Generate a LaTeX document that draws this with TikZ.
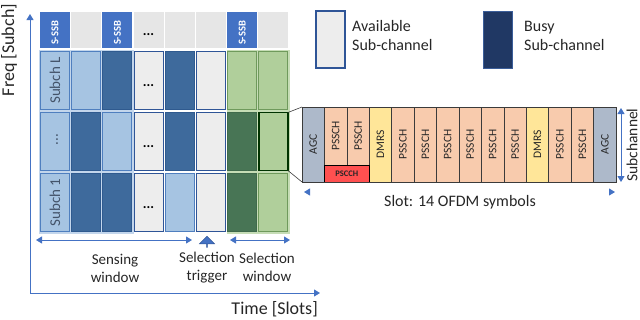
\documentclass[tikz,border=0pt]{standalone}
\usepackage{fontspec}
\setmainfont{Carlito}
\usetikzlibrary{arrows.meta,shapes.arrows,calc}
\definecolor{axisblue}{HTML}{4472C4}
\definecolor{lbfill}{HTML}{A6C4E2}
\definecolor{lbdraw}{HTML}{4F7FBF}
\definecolor{dbfill}{HTML}{3E6A9C}
\definecolor{dbdraw}{HTML}{2F5A8F}
\definecolor{grfill}{HTML}{EDEDED}
\definecolor{grdraw}{HTML}{2F5597}
\definecolor{lgfill}{HTML}{B0CF9B}
\definecolor{lgdraw}{HTML}{6F9A5C}
\definecolor{dgfill}{HTML}{487555}
\definecolor{dgdraw}{HTML}{3F6A4B}
\definecolor{topgray}{HTML}{E6E6E6}
\definecolor{busyfill}{HTML}{203864}
\definecolor{busydraw}{HTML}{3B5E9A}
\definecolor{agcfill}{HTML}{ADB9CA}
\definecolor{psschfill}{HTML}{F8CBAD}
\definecolor{dmrsfill}{HTML}{FFE699}
\definecolor{pscchfill}{HTML}{FF5050}
\definecolor{txt}{HTML}{262626}
\definecolor{lbl}{HTML}{44546A}
\definecolor{bgblue}{HTML}{C3D6EC}
\definecolor{bggreen}{HTML}{C6DDB6}
\definecolor{slotline}{HTML}{3B3B3B}
\begin{document}
\begin{tikzpicture}[x=1pt,y=-1pt,
  cell/.style={minimum width=29pt,minimum height=58pt,inner sep=0pt,outer sep=0pt,line width=1pt},
  lb/.style={fill=lbfill,draw=lbdraw},
  db/.style={fill=dbfill,draw=dbdraw},
  gr/.style={fill=grfill,draw=grdraw,line width=1.2pt},
  lg/.style={fill=lgfill,draw=lgdraw},
  dg/.style={fill=dgfill,draw=dgdraw},
  sel/.style={fill=lgfill,draw=black!80!green,line width=1.8pt},
  topcell/.style={minimum width=30pt,minimum height=36pt,inner sep=0pt,outer sep=0pt},
  ssb/.style={topcell,fill=axisblue},
  tg/.style={topcell,fill=topgray},
  ssbtxt/.style={rotate=90,text=white,font=\fontsize{10.5}{12}\selectfont\bfseries,inner sep=0pt},
  dots/.style={font=\fontsize{14}{15}\selectfont\bfseries,inner sep=0pt,text=black},
  rowlbl/.style={rotate=90,text=lbl,font=\fontsize{15}{17}\selectfont,inner sep=0pt},
  axis/.style={draw=axisblue,line width=0.9pt},
  tipp/.style={-{Triangle[length=6pt,width=7pt]}},
  dtip/.style={{Triangle[length=6pt,width=7pt]}-{Triangle[length=6pt,width=7pt]}},
  caption/.style={text=txt,font=\fontsize{15}{18}\selectfont,align=center,inner sep=0pt},
  legtxt/.style={text=txt,font=\fontsize{16}{19}\selectfont,align=left,anchor=west,inner sep=0pt},
  slotcell/.style={minimum width=22.43pt,minimum height=75pt,inner sep=0pt,outer sep=0pt,draw=slotline,line width=0.7pt},
  agc/.style={slotcell,fill=agcfill},
  pssch/.style={slotcell,fill=psschfill},
  dmrs/.style={slotcell,fill=dmrsfill},
  slottxt/.style={rotate=90,text=txt,font=\fontsize{11.5}{13}\selectfont,inner sep=0pt}
]
\useasboundingbox (0,0) rectangle (640,319);

% light backgrounds behind column groups
\fill[bgblue] (38.5,49.5) rectangle (134,233.5);
\fill[bggreen] (226.5,49.5) rectangle (290,233.5);

% S-SSB row
\foreach \st [count=\c] in {ssb,tg,ssb,tg,tg,tg,ssb,tg}
  \node[\st] (t\c) at ({55+31.2*(\c-1)},30) {};
\foreach \c in {1,3,7}
  \node[ssbtxt] (ssb\c) at ($(t\c)+(0,3)$) {S-SSB};
\node[dots] (tdots) at ($(t4)+(0,5)$) {...};

% grid rows
\foreach \st [count=\c] in {lb,lb,db,gr,db,gr,lg,lg}
  \node[cell,\st] (L\c) at ({55+31.2*(\c-1)},80.5) {};
\foreach \st [count=\c] in {lb,db,lb,gr,db,gr,dg,sel}
  \node[cell,\st] (M\c) at ({55+31.2*(\c-1)},141.5) {};
\foreach \st [count=\c] in {lb,db,db,gr,lb,gr,dg,lg}
  \node[cell,\st] (F\c) at ({55+31.2*(\c-1)},202.5) {};

\node[rowlbl] (lblL) at (L1) {Subch L};
\node[rowlbl] (lblM) at ($(M1)+(2,-2)$) {...};
\node[rowlbl] (lblF) at (F1) {Subch 1};
\node[dots] (dL) at ($(L4)+(0,5)$) {...};
\node[dots] (dM) at ($(M4)+(0,5)$) {...};
\node[dots] (dF) at ($(F4)+(0,5)$) {...};

% axes
\coordinate (O) at (30,293);
\coordinate (ytop) at (30,14);
\coordinate (xend) at (320,293);
\draw[axis,tipp] (O) -- (ytop);
\draw[axis,tipp] (O) -- (xend);
\node[rotate=90,text=txt,font=\fontsize{18}{20}\selectfont,inner sep=0pt] (freq) at (9,50) {Freq [Subch]};
\node[text=txt,font=\fontsize{18}{20}\selectfont,inner sep=0pt,anchor=east] (time) at (318,309) {Time [Slots]};

% windows
\coordinate (sw1) at (36,240);
\coordinate (sw2) at (192,240);
\coordinate (selw1) at (230,240);
\coordinate (selw2) at (290,240);
\draw[axis,dtip] (sw1) -- (sw2);
\draw[axis,dtip] (selw1) -- (selw2);
\node[single arrow,rotate=90,fill=axisblue,draw=grdraw,line width=0.5pt,
      minimum height=11pt,minimum width=15pt,single arrow head extend=4pt,inner sep=0pt] (trig) at (207,242) {};
\node[caption] (sensing) at (115,268) {Sensing\\window};
\node[caption] (seltrig) at (207,268) {Selection\\trigger};
\node[caption] (selwin) at (267,267) {Selection\\window};

% legend
\node[minimum width=29pt,minimum height=57pt,fill=grfill,draw=grdraw,line width=1.2pt,inner sep=0pt] (avail) at (330.5,39.5) {};
\node[legtxt] (availtxt) at (352,36) {Available\\Sub-channel};
\node[minimum width=29pt,minimum height=57pt,fill=busyfill,draw=busydraw,line width=1pt,inner sep=0pt] (busy) at (497.5,39.5) {};
\node[legtxt] (busytxt) at (524,36) {Busy\\Sub-channel};

% slot detail
\foreach \st [count=\i] in {agc,pssch,pssch,dmrs,pssch,pssch,pssch,pssch,pssch,pssch,dmrs,pssch,pssch,agc}{
  \ifnum\i=2 \relax
    \node[pssch,minimum height=58pt] (s\i) at ({302+22.43*(\i-0.5)},136) {};
  \else\ifnum\i=3 \relax
    \node[pssch,minimum height=58pt] (s\i) at ({302+22.43*(\i-0.5)},136) {};
  \else
    \node[\st] (s\i) at ({302+22.43*(\i-0.5)},144.5) {};
  \fi\fi
}
\node[minimum width=44.86pt,minimum height=17pt,fill=pscchfill,draw=black,line width=0.9pt,inner sep=0pt,
      font=\fontsize{8.5}{10}\selectfont\bfseries,text=txt] (pscch) at (346.86,173.5) {PSCCH};
\draw[slotline,line width=0.9pt] (s1.north west) rectangle (s14.south east);
\foreach \i in {1,14} \node[slottxt] (tx\i) at (s\i) {AGC};
\foreach \i in {4,11} \node[slottxt] (tx\i) at (s\i) {DMRS};
\foreach \i in {2,3,5,6,7,8,9,10,12,13} \node[slottxt] (tx\i) at (s\i) {PSSCH};

% zoom lines
\draw[slotline,line width=0.6pt] (M8.north east) -- (s1.north west);
\draw[slotline,line width=0.6pt] (M8.south east) -- (s1.south west);

% subchannel arrow
\coordinate (sc1) at (621,108);
\coordinate (sc2) at (621,182);
\draw[axis,dtip] (sc1) -- (sc2);
\node[rotate=90,text=txt,font=\fontsize{15.5}{17}\selectfont,inner sep=0pt] (subch) at (632,145) {Subchannel};

% slot arrow (tips only visible)
\coordinate (sa1) at (304,192);
\coordinate (sa2) at (615,192);
\draw[draw=white,line width=0.9pt,{Triangle[length=6pt,width=7pt,color=axisblue]}-{Triangle[length=6pt,width=7pt,color=axisblue]}] (sa1) -- (sa2);
\node[text=txt,font=\fontsize{16}{18}\selectfont,inner sep=0pt] (slotlbl) at (460,202) {Slot: 14 OFDM symbols};
\end{tikzpicture}
\end{document}
